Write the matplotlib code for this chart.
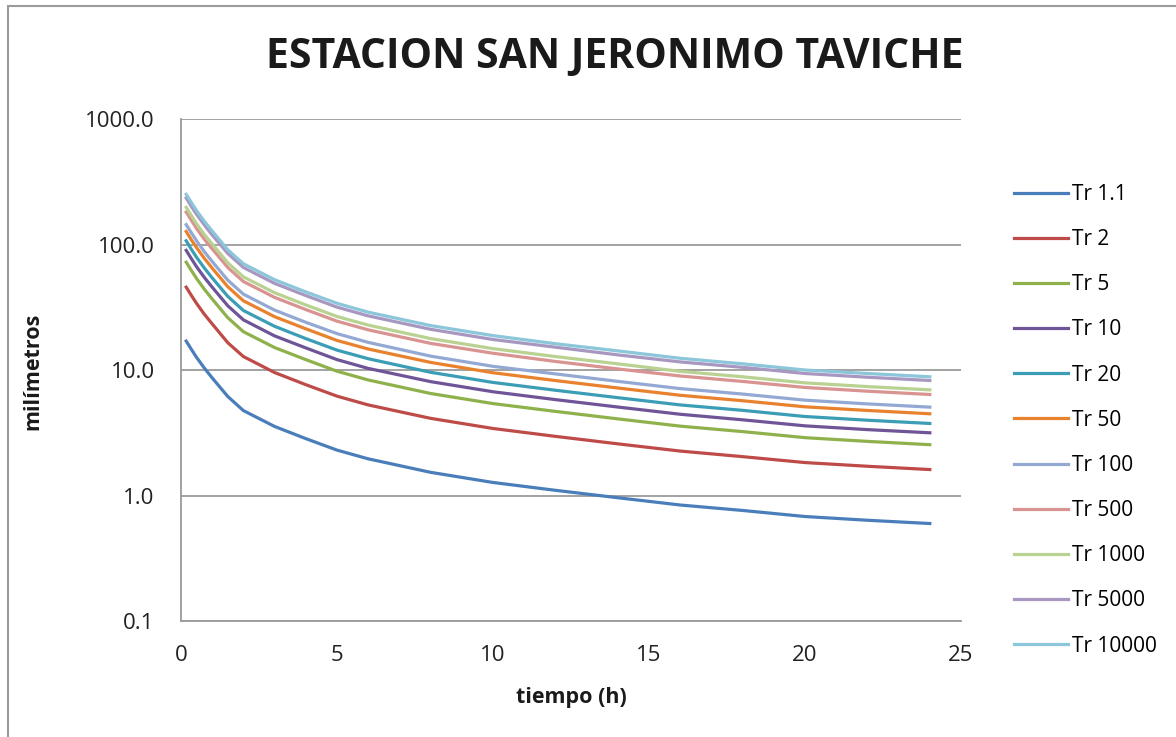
import matplotlib
matplotlib.use("Agg")
import matplotlib.pyplot as plt
from matplotlib.ticker import FixedLocator, FuncFormatter
from matplotlib.patches import Rectangle

# duration (hours) and rainfall depth (mm) for each return period
tiempo = [0.167, 0.333, 0.5, 0.75, 1, 1.5, 2, 3, 4, 5, 6, 8, 10, 12, 14, 16, 18, 20, 22, 24]

tr_1_1 = [17.0, 14.6, 12.6, 10.35, 8.65, 6.15, 4.75, 3.55, 2.84, 2.30, 1.96, 1.53, 1.27, 1.10, 0.96, 0.84, 0.76, 0.68, 0.635, 0.598]
tr_2 = [45.7, 39.3, 33.9, 27.8, 23.3, 16.5, 12.8, 9.55, 7.64, 6.19, 5.27, 4.12, 3.42, 2.96, 2.58, 2.26, 2.04, 1.83, 1.71, 1.61]
tr_5 = [72.3, 62.1, 53.6, 44.0, 36.8, 26.1, 20.2, 15.1, 12.1, 9.78, 8.33, 6.50, 5.40, 4.68, 4.08, 3.57, 3.23, 2.89, 2.70, 2.54]
tr_10 = [89.8, 77.1, 66.5, 54.6, 45.7, 32.5, 25.1, 18.7, 15.0, 12.1, 10.3, 8.08, 6.71, 5.81, 5.07, 4.44, 4.01, 3.59, 3.35, 3.16]
tr_20 = [107, 91.5, 79.0, 64.9, 54.2, 38.6, 29.8, 22.3, 17.8, 14.4, 12.3, 9.59, 7.96, 6.90, 6.02, 5.27, 4.77, 4.26, 3.98, 3.75]
tr_50 = [127, 109, 94.4, 77.5, 64.8, 46.1, 35.6, 26.6, 21.3, 17.2, 14.7, 11.5, 9.51, 8.24, 7.19, 6.29, 5.69, 5.09, 4.76, 4.48]
tr_100 = [144, 124, 107, 87.6, 73.2, 52.0, 40.2, 30.0, 24.0, 19.5, 16.6, 12.9, 10.7, 9.31, 8.12, 7.11, 6.43, 5.75, 5.37, 5.06]
tr_500 = [181, 156, 134, 110, 92.3, 65.6, 50.7, 37.9, 30.3, 24.5, 20.9, 16.3, 13.6, 11.7, 10.2, 8.96, 8.11, 7.26, 6.78, 6.38]
tr_1000 = [198, 170, 146, 120, 101, 71.5, 55.2, 41.3, 33.0, 26.7, 22.8, 17.8, 14.8, 12.8, 11.2, 9.76, 8.83, 7.90, 7.38, 6.95]
tr_5000 = [235, 201, 174, 143, 119, 84.9, 65.6, 49.0, 39.2, 31.7, 27.0, 21.1, 17.5, 15.2, 13.2, 11.6, 10.5, 9.38, 8.76, 8.25]
tr_10000 = [251, 216, 186, 153, 128, 90.8, 70.2, 52.4, 41.9, 34.0, 28.9, 22.6, 18.8, 16.2, 14.2, 12.4, 11.2, 10.0, 9.38, 8.83]

series = [tr_1_1, tr_2, tr_5, tr_10, tr_20, tr_50, tr_100, tr_500, tr_1000, tr_5000, tr_10000]
labels = ["Tr 1.1", "Tr 2", "Tr 5", "Tr 10", "Tr 20", "Tr 50", "Tr 100",
          "Tr 500", "Tr 1000", "Tr 5000", "Tr 10000"]
colors = ["#4A7EBB", "#BE4B48", "#8FB14C", "#6F5597", "#3B9EB6", "#E9822F",
          "#93A9D4", "#D99391", "#B9D291", "#A897C0", "#8CC6DA"]

plt.rcParams['font.family'] = ['Open Sans', 'DejaVu Sans']

fig = plt.figure(figsize=(11.76, 7.37), dpi=100)
ax = fig.add_axes([0.1539, 0.1574, 0.6633, 0.6811])

for vals, lab, col in zip(series, labels, colors):
    ax.plot(tiempo, vals, color=col, lw=2.3, label=lab, solid_joinstyle='round')

ax.set_yscale('log')
ax.set_ylim(0.1, 1000)
ax.set_xlim(0, 25)
ax.yaxis.set_major_locator(FixedLocator([0.1, 1, 10, 100, 1000]))
ax.yaxis.set_minor_locator(FixedLocator([]))
ax.yaxis.set_major_formatter(FuncFormatter(lambda v, p: f"{v:.1f}"))
ax.set_xticks([0, 5, 10, 15, 20, 25])
ax.tick_params(axis='both', length=0, labelsize=16, colors='#222222')
ax.tick_params(axis='y', pad=19)
ax.tick_params(axis='x', pad=17)

ax.grid(axis='y', color='#9b9b9b', lw=1.3)
ax.set_axisbelow(True)
for side in ['top', 'right']:
    ax.spines[side].set_visible(False)
for side in ['left', 'bottom']:
    ax.spines[side].set_color('#9b9b9b')
    ax.spines[side].set_linewidth(1.3)

fig.text(33 / 1176, 1 - 371 / 737, 'milímetros', fontsize=15.5, fontweight='bold',
         rotation=90, ha='center', va='center', color='#1a1a1a')
fig.text(571 / 1176, 1 - 697 / 737, 'tiempo (h)', fontsize=15.5, fontweight='bold',
         ha='center', va='center', color='#1a1a1a')
fig.text(0.523, 0.922, 'ESTACION SAN JERONIMO TAVICHE', fontsize=29.5,
         fontweight='bold', ha='center', va='center', color='#1a1a1a')

fig.legend(loc='upper left', bbox_to_anchor=(0.846, 0.776), frameon=False,
           fontsize=15, handlelength=2.6, handletextpad=0.2, labelspacing=1.16)

# outer chart border
fig.patches.append(Rectangle((8 / 1176, -0.05), 1.2, 1 - 6 / 737 + 0.05,
                             transform=fig.transFigure, fill=False,
                             edgecolor='#9b9b9b', lw=1.5))

plt.savefig("out.png", dpi=100)
